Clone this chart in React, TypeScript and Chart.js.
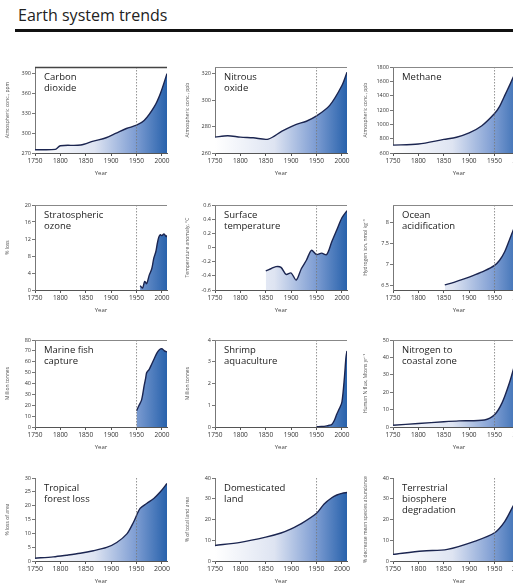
import { useEffect, useRef } from "react";
import { Chart, registerables } from "chart.js";
Chart.register(...registerables);

const X_TICKS = [1750, 1800, 1850, 1900, 1950, 2000];

const CO2_YEARS = [1750, 1790, 1800, 1840, 1865, 1890, 1910, 1930, 1950, 1965, 1985, 1997, 2010];
const CO2_VALUES = [275, 275.5, 281, 282, 288, 293, 300, 307, 312, 319, 340, 360, 390];
const CO2_TICKS = [270, 300, 330, 360, 390];

const N2O_YEARS = [1750, 1775, 1800, 1825, 1855, 1882, 1909, 1930, 1950, 1976, 2000, 2010];
const N2O_VALUES = [272, 273, 272, 271.5, 270.5, 276.5, 281.5, 284, 288, 296, 311, 321];
const N2O_TICKS = [260, 280, 300, 320];

const CH4_YEARS = [1750, 1800, 1850, 1875, 1900, 1925, 1950, 1960, 1970, 1980, 1990, 2000, 2010];
const CH4_VALUES = [710, 725, 790, 820, 880, 980, 1150, 1250, 1400, 1550, 1700, 1770, 1800];
const CH4_TICKS = [600, 800, 1000, 1200, 1400, 1600, 1800];

const O3_YEARS = [1957, 1962, 1966, 1970, 1975, 1980, 1984, 1988, 1991, 1994, 1997, 2000, 2004, 2008, 2010];
const O3_VALUES = [1, 0.5, 2, 1.5, 3.5, 5, 7.5, 9, 11, 12.5, 13, 12.8, 13.2, 12.6, 12.8];
const O3_TICKS = [0, 4, 8, 12, 16, 20];

const TEMP_YEARS = [1850, 1860, 1870, 1880, 1890, 1900, 1910, 1920, 1930, 1940, 1950, 1960, 1970, 1980, 1990, 2000, 2010];
const TEMP_VALUES = [-0.33, -0.3, -0.27, -0.28, -0.38, -0.36, -0.46, -0.3, -0.18, -0.04, -0.1, -0.08, -0.1, 0.08, 0.25, 0.42, 0.52];
const TEMP_TICKS = [-0.6, -0.4, -0.2, 0, 0.2, 0.4, 0.6];

const OCEAN_YEARS = [1852, 1870, 1890, 1910, 1930, 1950, 1960, 1970, 1980, 1990, 2000, 2010];
const OCEAN_VALUES = [6.52, 6.58, 6.66, 6.75, 6.85, 6.98, 7.1, 7.3, 7.6, 7.9, 8.15, 8.4];
const OCEAN_TICKS = [6.5, 7.0, 7.5, 8.0];

const FISH_YEARS = [1950, 1955, 1960, 1965, 1968, 1970, 1975, 1980, 1985, 1990, 1995, 2000, 2005, 2010];
const FISH_VALUES = [15, 20, 25, 38, 45, 50, 53, 58, 63, 68, 71, 72, 70, 69];
const FISH_TICKS = [0, 10, 20, 30, 40, 50, 60, 70, 80];

const SHRIMP_YEARS = [1950, 1960, 1970, 1975, 1980, 1985, 1990, 1995, 2000, 2005, 2008, 2010];
const SHRIMP_VALUES = [0.01, 0.02, 0.05, 0.08, 0.12, 0.3, 0.6, 0.85, 1.15, 2.3, 3.2, 3.5];
const SHRIMP_TICKS = [0, 1, 2, 3, 4];

const NITRO_YEARS = [1750, 1800, 1850, 1880, 1930, 1950, 1965, 1980, 1990, 2000, 2010];
const NITRO_VALUES = [1, 2, 3, 3.5, 4, 7, 14, 26, 36, 44, 48];
const NITRO_TICKS = [0, 10, 20, 30, 40, 50];

const FOREST_YEARS = [1750, 1786, 1812, 1839, 1865, 1891, 1911, 1931, 1944, 1957, 1970, 1984, 1997, 2010];
const FOREST_VALUES = [1, 1.5, 2.1, 2.8, 3.7, 4.9, 6.7, 9.8, 14, 19, 20.8, 22.6, 25, 28];
const FOREST_TICKS = [0, 5, 10, 15, 20, 25, 30];

const LAND_YEARS = [1750, 1800, 1850, 1880, 1900, 1920, 1950, 1965, 1980, 1990, 2000, 2010];
const LAND_VALUES = [7.5, 9, 11.5, 13.5, 15.5, 18, 23, 27.5, 30.5, 31.8, 32.6, 33];
const LAND_TICKS = [0, 10, 20, 30, 40];

const BIO_YEARS = [1750, 1809, 1857, 1912, 1950, 1970, 1988, 2000, 2010];
const BIO_VALUES = [3.2, 4.8, 5.6, 9.6, 13.6, 19, 27, 31, 34];
const BIO_TICKS = [0, 10, 20, 30, 40];

const PANEL_NAMES = [
  ["Carbon", "dioxide"], ["Nitrous", "oxide"], ["Methane"],
  ["Stratospheric", "ozone"], ["Surface", "temperature"], ["Ocean", "acidification"],
  ["Marine fish", "capture"], ["Shrimp", "aquaculture"], ["Nitrogen to", "coastal zone"],
  ["Tropical", "forest loss"], ["Domesticated", "land"], ["Terrestrial", "biosphere", "degradation"],
];
const Y_TITLES = [
  "Atmospheric conc., ppm", "Atmospheric conc., ppb", "Atmospheric conc., ppb",
  "% loss", "Temperature anomaly, °C", "Hydrogen ion, nmol kg⁻¹",
  "Million tonnes", "Million tonnes", "Human N flux, Mtons yr⁻¹",
  "% loss of area", "% of total land area", "% decrease mean species abundance",
];

const SERIES = [
  { years: CO2_YEARS, values: CO2_VALUES, ticks: CO2_TICKS, min: 270, max: 400 },
  { years: N2O_YEARS, values: N2O_VALUES, ticks: N2O_TICKS, min: 260, max: 325 },
  { years: CH4_YEARS, values: CH4_VALUES, ticks: CH4_TICKS, min: 600, max: 1800 },
  { years: O3_YEARS, values: O3_VALUES, ticks: O3_TICKS, min: 0, max: 20 },
  { years: TEMP_YEARS, values: TEMP_VALUES, ticks: TEMP_TICKS, min: -0.6, max: 0.6 },
  { years: OCEAN_YEARS, values: OCEAN_VALUES, ticks: OCEAN_TICKS, min: 6.4, max: 8.4 },
  { years: FISH_YEARS, values: FISH_VALUES, ticks: FISH_TICKS, min: 0, max: 80 },
  { years: SHRIMP_YEARS, values: SHRIMP_VALUES, ticks: SHRIMP_TICKS, min: 0, max: 4 },
  { years: NITRO_YEARS, values: NITRO_VALUES, ticks: NITRO_TICKS, min: 0, max: 50 },
  { years: FOREST_YEARS, values: FOREST_VALUES, ticks: FOREST_TICKS, min: 0, max: 30 },
  { years: LAND_YEARS, values: LAND_VALUES, ticks: LAND_TICKS, min: 0, max: 40 },
  { years: BIO_YEARS, values: BIO_VALUES, ticks: BIO_TICKS, min: 0, max: 40 },
];

const COL_LEFT = [35, 215, 393];
const ROW_TOP = [67, 205, 340, 478];
const ROW_H = [86, 85, 87, 83];
const PLOT_W = 132;
const Y_AXIS_W = 30;
const X_AXIS_H = 24;
const PAD_TOP = 6;
const PAD_RIGHT = 6;

const LINE = "#1b2550";
const FONT = "'Open Sans', 'Liberation Sans', sans-serif";

function Panel({ idx }: { idx: number }) {
  const ref = useRef<HTMLCanvasElement>(null);
  const col = idx % 3;
  const row = Math.floor(idx / 3);
  const w = Y_AXIS_W + PLOT_W + PAD_RIGHT;
  const h = PAD_TOP + ROW_H[row] + X_AXIS_H;
  useEffect(() => {
    const s = SERIES[idx];
    const names = PANEL_NAMES[idx];
    const topBorder = row < 3;
    const panelPlugin = {
      id: "panelDeco",
      afterDatasetsDraw(chart: any) {
        const { ctx, chartArea } = chart;
        const x = chart.scales.x.getPixelForValue(1950);
        ctx.save();
        ctx.strokeStyle = "#777";
        ctx.lineWidth = 0.8;
        ctx.setLineDash([1.5, 1.5]);
        ctx.beginPath();
        ctx.moveTo(x, chartArea.top);
        ctx.lineTo(x, chartArea.bottom);
        ctx.stroke();
        ctx.setLineDash([]);
        if (topBorder) {
          ctx.strokeStyle = idx === 0 ? "#444" : "#888";
          ctx.lineWidth = idx === 0 ? 1.5 : 1;
          ctx.beginPath();
          ctx.moveTo(chartArea.left, chartArea.top + 0.5);
          ctx.lineTo(chartArea.right, chartArea.top + 0.5);
          ctx.stroke();
        }
        ctx.fillStyle = "#222";
        ctx.font = `9.5px ${FONT}`;
        ctx.textBaseline = "top";
        names.forEach((t, i) => ctx.fillText(t, chartArea.left + 9, chartArea.top + 6 + i * 11));
        ctx.restore();
      },
    };
    const chart = new Chart(ref.current!, {
      type: "line",
      data: {
        datasets: [
          {
            data: s.years.map((x, i) => ({ x, y: s.values[i] })),
            borderColor: LINE,
            borderWidth: 1.4,
            pointRadius: 0,
            tension: 0.3,
            fill: "start",
            backgroundColor: (c: any) => {
              const ca = c.chart.chartArea;
              if (!ca) return "rgba(0,0,0,0)";
              const g = c.chart.ctx.createLinearGradient(ca.left, 0, ca.right, 0);
              g.addColorStop(0, "rgba(255,255,255,1)");
              g.addColorStop(0.45, "rgba(222,228,242,1)");
              g.addColorStop(0.75, "rgba(130,160,212,1)");
              g.addColorStop(1, "rgba(40,98,172,1)");
              return g;
            },
          },
        ],
      },
      options: {
        animation: false,
        responsive: false,
        maintainAspectRatio: false,
        layout: { padding: { top: PAD_TOP, right: PAD_RIGHT, left: 0, bottom: 0 } },
        plugins: { legend: { display: false }, tooltip: { enabled: false } },
        scales: {
          x: {
            type: "linear",
            min: 1750,
            max: 2010,
            afterBuildTicks: (sc: any) => {
              sc.ticks = X_TICKS.map((v) => ({ value: v }));
            },
            afterFit: (sc: any) => {
              sc.height = X_AXIS_H;
            },
            ticks: {
              font: { size: row === 3 ? 7 : 6.5, family: FONT },
              color: "#333",
              padding: 1,
              maxRotation: 0,
              autoSkip: false,
              callback: (v: any) => String(v),
            },
            grid: { drawOnChartArea: false, tickLength: 3, color: "#555" },
            border: { color: "#555", width: 1 },
            title: { display: true, text: "Year", font: { size: 6, family: FONT }, color: "#444", padding: 0 },
          },
          y: {
            type: "linear",
            min: s.min,
            max: s.max,
            afterBuildTicks: (sc: any) => {
              sc.ticks = s.ticks.map((v) => ({ value: v }));
            },
            afterFit: (sc: any) => {
              sc.width = Y_AXIS_W;
            },
            ticks: {
              font: { size: 5.5, family: FONT },
              color: "#333",
              padding: 1,
              callback: (v: any) => String(v),
            },
            grid: { drawOnChartArea: false, tickLength: 3, color: "#777" },
            border: { color: "#777", width: 1 },
            title: { display: true, text: Y_TITLES[idx], font: { size: 5, family: FONT }, color: "#555", padding: 0 },
          },
        },
      },
      plugins: [panelPlugin],
    });
    return () => chart.destroy();
  }, [idx]);
  return (
    <canvas
      ref={ref}
      width={w}
      height={h}
      style={{
        position: "absolute",
        left: COL_LEFT[col] - Y_AXIS_W,
        top: ROW_TOP[row] - PAD_TOP,
        width: w,
        height: h,
      }}
    />
  );
}

export default function App() {
  return (
    <div
      style={{
        position: "absolute",
        left: 0,
        top: 0,
        width: 513,
        height: 583,
        overflow: "hidden",
        background: "#fff",
      }}
    >
      <div
        style={{
          position: "absolute",
          left: 18,
          top: 4,
          fontFamily: FONT,
          fontSize: 16,
          color: "#222",
          whiteSpace: "nowrap",
        }}
      >
        Earth system trends
      </div>
      <div style={{ position: "absolute", left: 15, top: 29, width: 498, height: 3, background: "#111" }} />
      {PANEL_NAMES.map((_, i) => (
        <Panel key={i} idx={i} />
      ))}
    </div>
  );
}
